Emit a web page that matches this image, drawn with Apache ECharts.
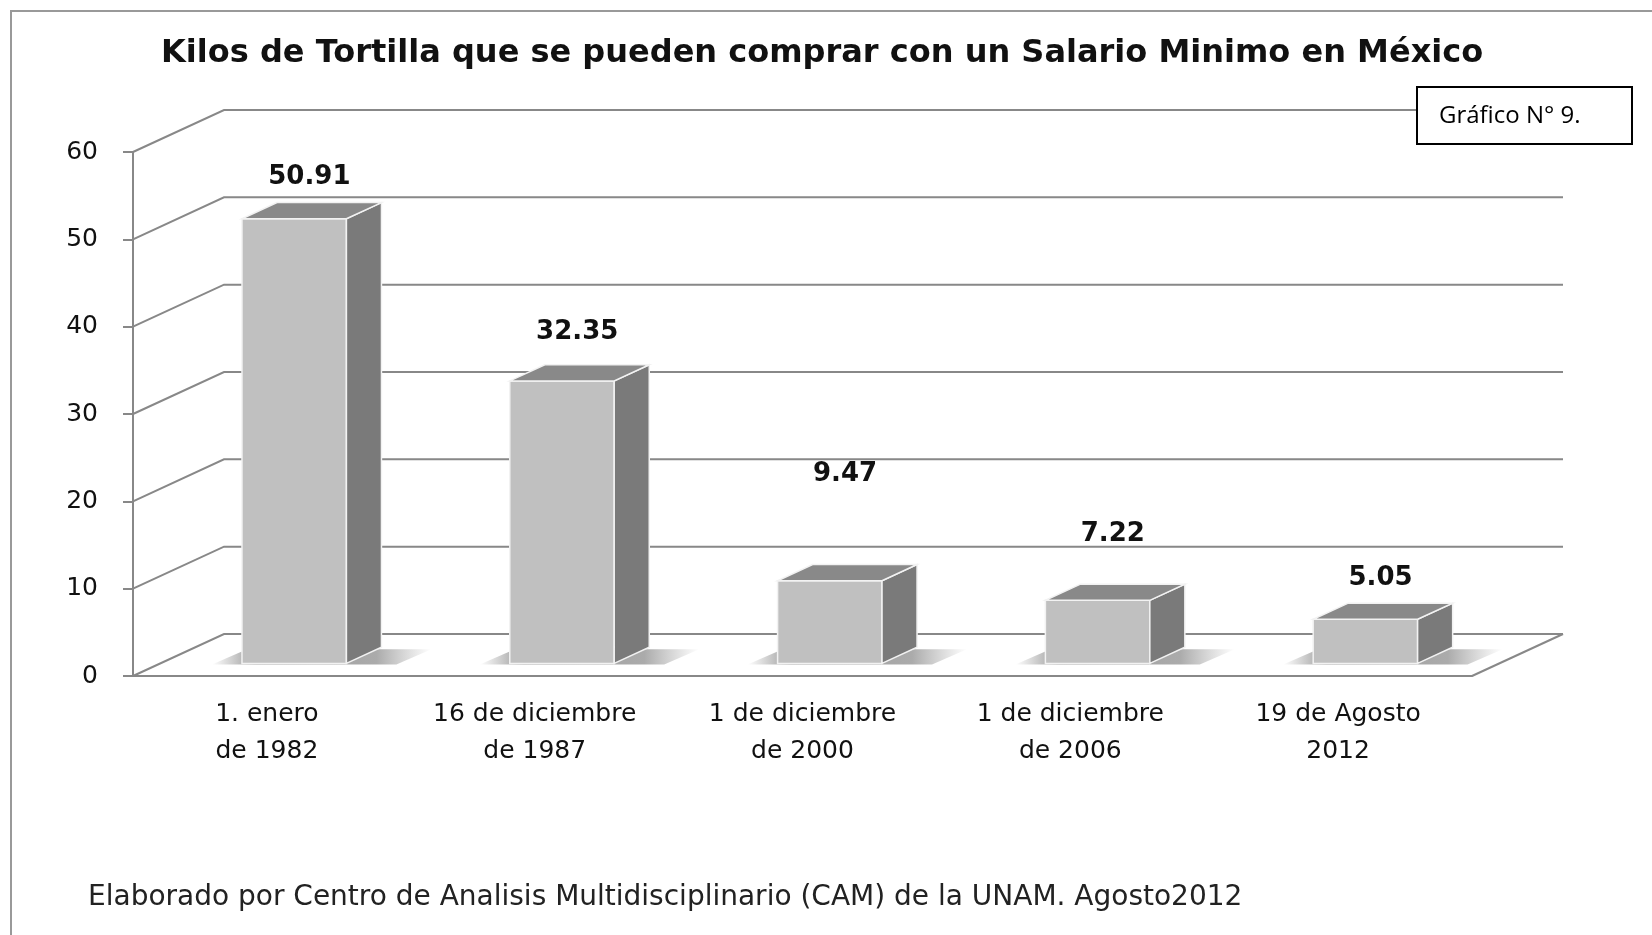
<!DOCTYPE html>
<html lang="es">
<head>
<meta charset="UTF-8">
<title>Kilos de Tortilla</title>
<script src="https://cdn.jsdelivr.net/npm/echarts@6/dist/echarts.min.js"></script>
<style>
    html, body { margin: 0; padding: 0; background: #fff; }
    #chart { width: 1652px; height: 935px; }
</style>
</head>
<body>
<div id="chart"></div>
<script>
var categories = ['1. enero\nde 1982', '16 de diciembre\nde 1987', '1 de diciembre\nde 2000', '1 de diciembre\nde 2006', '19 de Agosto\n2012'];
var kilos = [50.91, 32.35, 9.47, 7.22, 5.05];
var yTicks = [0, 10, 20, 30, 40, 50, 60];

// fake 3D box: offset of the back wall (px), bar depth and width
var DX = 91, DY = -42;
var F1 = 0.3, F2 = 0.685;
var BAR_W = 0.39;
// label distance above bar top (excel puts them a bit everywhere)
var labelLift = [25, 32, 90, 50, 25];

var FONT = '"DejaVu Sans", Verdana, sans-serif';
var GRID_COLOR = '#888888';

function renderGrid(params, api) {
    var v = api.value(1);
    var p = api.coord([0, v]);
    var bw = api.size([1, 0])[0];
    var x0 = p[0] - bw / 2;
    var x1 = x0 + bw * categories.length;
    var y = p[1];
    var children = [{
        type: 'polyline',
        shape: { points: [[x0, y], [x0 + DX, y + DY], [x1 + DX, y + DY]] },
        style: { stroke: GRID_COLOR, lineWidth: 2, fill: 'none' }
    }];
    if (v === 0) {
        children.push({
            type: 'line',
            shape: { x1: x1, y1: y, x2: x1 + DX, y2: y + DY },
            style: { stroke: GRID_COLOR, lineWidth: 2 }
        });
    }
    return { type: 'group', children: children };
}

function renderBar(params, api) {
    var i = api.value(0), v = api.value(1);
    var top = api.coord([i, v]);
    var base = api.coord([i, 0]);
    var bw = api.size([1, 0])[0];
    var w = bw * BAR_W;
    var cx = top[0] + F1 * DX;
    var L = cx - w / 2, R = cx + w / 2;
    var T = top[1] + F1 * DY, B = base[1] + F1 * DY;
    var ddx = (F2 - F1) * DX, ddy = (F2 - F1) * DY;
    var edge = '#f2f2f2';

    var shadow = {
        type: 'polygon',
        shape: { points: [[L - 30, B + 1], [R + 50, B + 1], [R + ddx + 50, B + ddy + 2], [L + ddx - 30, B + ddy + 2]] },
        style: {
            fill: new echarts.graphic.LinearGradient(0, 0, 1, 0, [
                { offset: 0, color: 'rgba(140,140,140,0)' },
                { offset: 0.2, color: 'rgba(140,140,140,0.9)' },
                { offset: 0.75, color: 'rgba(150,150,150,0.8)' },
                { offset: 1, color: 'rgba(160,160,160,0)' }
            ])
        }
    };
    var front = {
        type: 'rect',
        shape: { x: L, y: T, width: w, height: B - T },
        style: { fill: '#c0c0c0', stroke: edge, lineWidth: 1.5 }
    };
    var topFace = {
        type: 'polygon',
        shape: { points: [[L, T], [R, T], [R + ddx, T + ddy], [L + ddx, T + ddy]] },
        style: { fill: '#898989', stroke: edge, lineWidth: 1.5 }
    };
    var side = {
        type: 'polygon',
        shape: { points: [[R, T], [R + ddx, T + ddy], [R + ddx, B + ddy], [R, B]] },
        style: { fill: '#7a7a7a', stroke: edge, lineWidth: 1.5 }
    };
    var label = {
        type: 'text',
        x: top[0] + 0.5 * DX - 3,
        y: T + ddy - labelLift[i],
        style: {
            text: kilos[i].toFixed(2),
            font: 'bold 26px ' + FONT,
            fill: '#111',
            align: 'center',
            verticalAlign: 'middle'
        }
    };
    return { type: 'group', children: [shadow, front, side, topFace, label] };
}

var myChart = echarts.init(document.getElementById('chart'));
var option = {
    animation: false,
    backgroundColor: '#fff',
    title: {
        text: 'Kilos de Tortilla que se pueden comprar con un Salario Minimo en México',
        left: 156,
        top: 33,
        textStyle: { fontFamily: FONT, fontWeight: 'bold', fontSize: 32, color: '#111' }
    },
    grid: { left: 133, right: 180, top: 152, bottom: 259 },
    xAxis: {
        type: 'category',
        data: categories,
        axisLine: { lineStyle: { color: GRID_COLOR, width: 2 } },
        axisTick: { length: 9, lineStyle: { color: GRID_COLOR, width: 2 } },
        axisLabel: { interval: 0, fontFamily: FONT, fontSize: 25, color: '#111', lineHeight: 37, margin: 20 },
        splitLine: { show: false }
    },
    yAxis: {
        type: 'value',
        min: 0,
        max: 60,
        interval: 10,
        axisLine: { show: true, lineStyle: { color: GRID_COLOR, width: 2 } },
        axisTick: { show: true, length: 10, lineStyle: { color: GRID_COLOR, width: 2 } },
        axisLabel: { fontFamily: FONT, fontSize: 25, color: '#111', margin: 35 },
        splitLine: { show: false }
    },
    series: [
        {
            type: 'custom',
            clip: false,
            silent: true,
            renderItem: renderGrid,
            data: yTicks.map(function (v) { return [0, v]; }),
            z: 1
        },
        {
            type: 'custom',
            clip: false,
            renderItem: renderBar,
            data: kilos.map(function (v, i) { return [i, v]; }),
            z: 2
        }
    ],
    graphic: [
        {
            type: 'rect',
            shape: { x: 11, y: 11, width: 1700, height: 1000 },
            style: { fill: 'none', stroke: '#999', lineWidth: 2 },
            silent: true
        },
        {
            type: 'group',
            left: 1416,
            top: 86,
            z: 100,
            children: [
                {
                    type: 'rect',
                    z: 100,
                    shape: { x: 0, y: 0, width: 215, height: 57 },
                    style: { fill: '#fff', stroke: '#000', lineWidth: 2 }
                },
                {
                    type: 'text',
                    z: 101,
                    x: 22,
                    y: 29,
                    style: { text: 'Gráfico N° 9.', font: '24px "Open Sans", sans-serif', fill: '#000', verticalAlign: 'middle' }
                }
            ]
        },
        {
            type: 'text',
            left: 88,
            top: 884,
            style: {
                text: 'Elaborado por Centro de Analisis Multidisciplinario (CAM) de la UNAM. Agosto2012',
                font: '28px ' + FONT,
                fill: '#222'
            }
        }
    ]
};
myChart.setOption(option);
</script>
</body>
</html>
